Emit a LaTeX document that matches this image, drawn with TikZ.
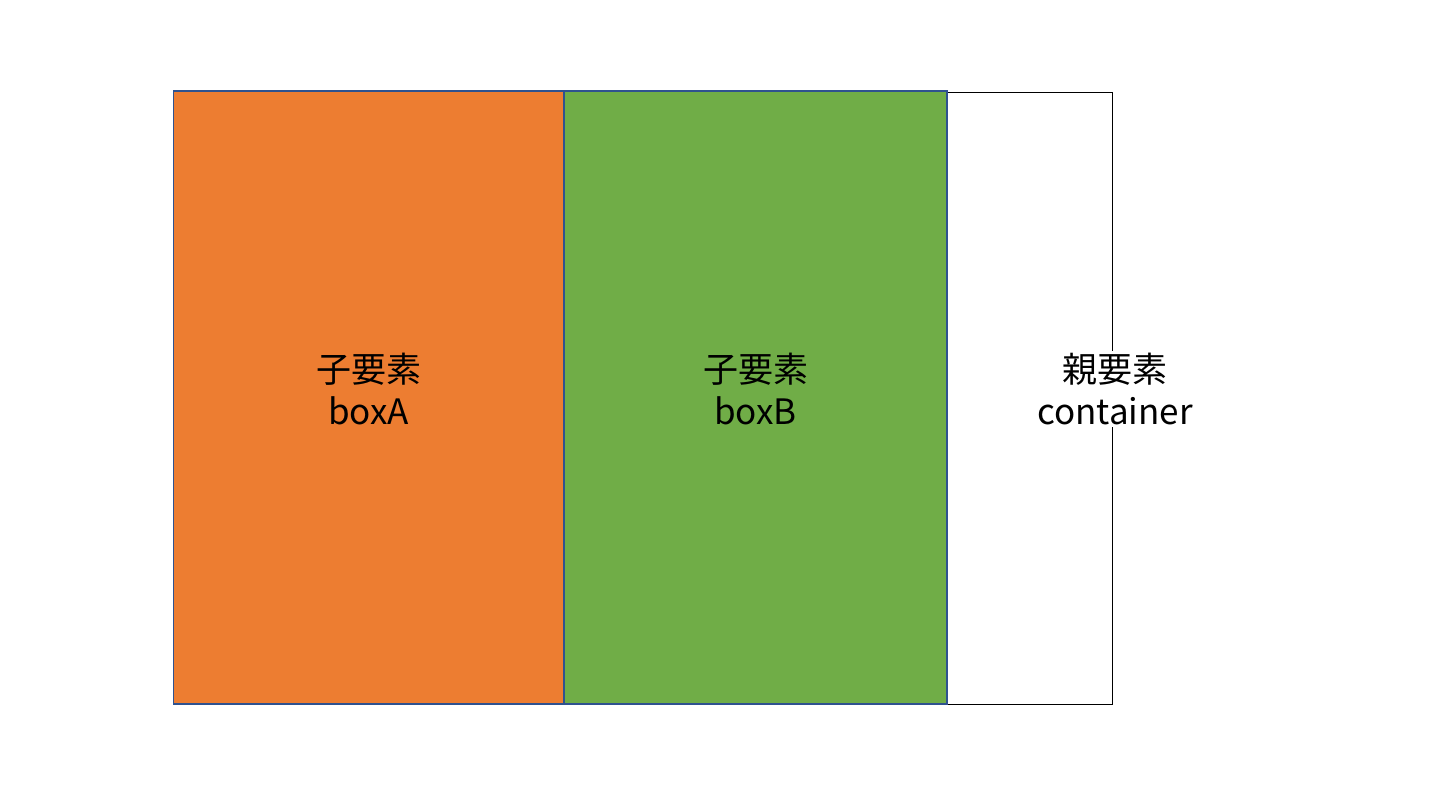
\documentclass[tikz,border=0pt]{standalone}
\usepackage{fontspec}
\setmainfont{Noto Sans CJK JP}
\begin{document}
\begin{tikzpicture}[x=1pt,y=1pt,yscale=-1,xscale=1]
\tikzset{
  childbox/.style={draw={rgb, 255:red, 47; green, 82; blue, 143}, line width=1.5pt, inner sep=0pt},
  boxlabel/.style={align=center, inner sep=2pt, font=\fontsize{35}{42}\selectfont}
}
%uncomment if require: \path (0,803); %set diagram left start at 0, and has height of 803
\useasboundingbox (0,0) rectangle (1435,803);

%Shape: Rectangle [id:container]
\node [draw=black, line width=1pt, inner sep=0pt, minimum width=939, minimum height=611.5] (container) at (642.5,398.25) {};
%Shape: Rectangle [id:boxA]
\node [childbox, fill={rgb, 255:red, 237; green, 125; blue, 49}, minimum width=390.5, minimum height=613] (boxA) at (368.75,397.5) {};
%Shape: Rectangle [id:boxB]
\node [childbox, fill={rgb, 255:red, 112; green, 173; blue, 71}, minimum width=383, minimum height=613] (boxB) at (755.5,397.5) {};

% Text Node
\node [boxlabel] (labelA) at (368.5,389) {子要素\\boxA};
% Text Node
\node [boxlabel] (labelB) at (755.5,389) {子要素\\boxB};
% Text Node
\node [boxlabel, fill=white] (labelC) at (1115,389) {親要素\\container};
\end{tikzpicture}
\end{document}
